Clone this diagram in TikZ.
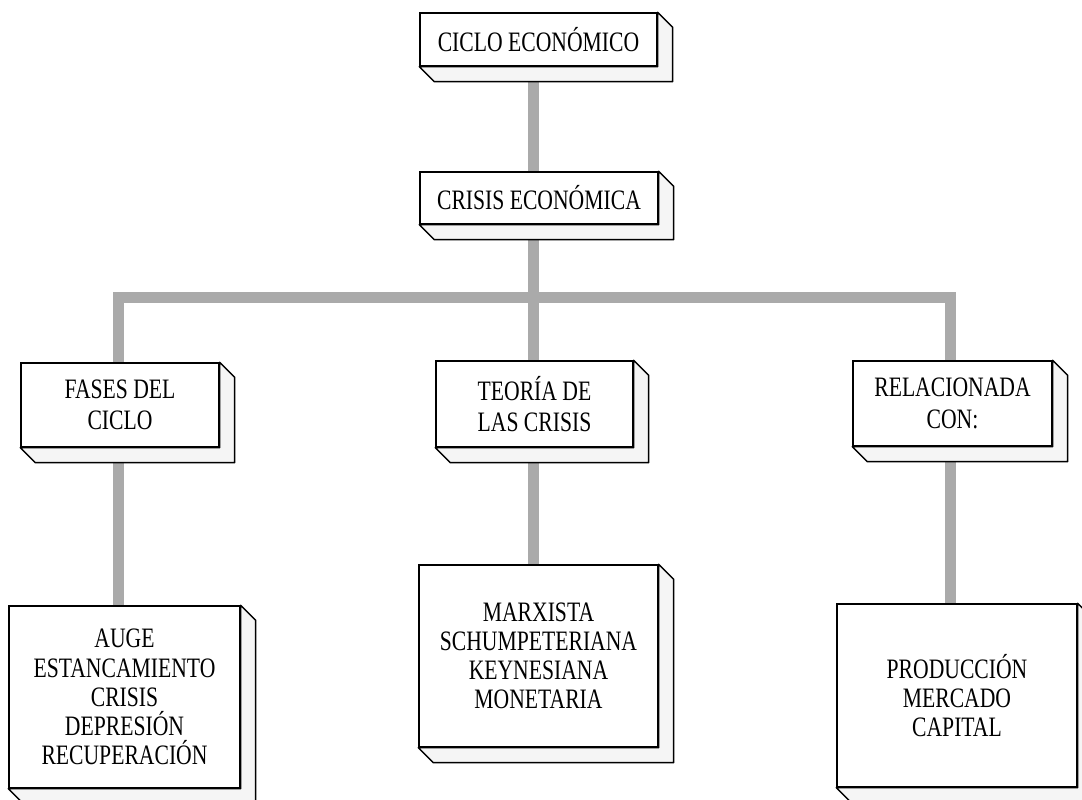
\documentclass[tikz,border=0pt]{standalone}
\usepackage{fontspec}
\setmainfont[FakeStretch=0.77]{Liberation Serif}
\usetikzlibrary{calc,backgrounds}
\definecolor{barragris}{RGB}{170,170,170}
% cara lateral e inferior de una caja
\newcommand{\relieve}[1]{%
  \filldraw[lado] (#1.north east) -- ++(15,15) -- ($(#1.south east)+(15,15)$)
    -- ($(#1.south west)+(15,15)$) -- (#1.south west) -- (#1.south east) -- cycle;}
\begin{document}
\begin{tikzpicture}[x=0.02cm, y=-0.02cm,
    caja/.style={draw, line width=0.8pt, fill=white, align=center, inner sep=0pt,
      font=\fontsize{16}{16.6}\selectfont},
    lado/.style={draw, line width=0.8pt, fill=gray!8, line join=round},
    barra/.style={draw=barragris, line width=0.22cm, line join=miter}]
    \clip (0,0) rectangle (1082,800);
    % nivel superior
    \node[caja, minimum width=4.74cm, minimum height=1.06cm] (ciclo) at (538.5,39.5) {CICLO ECONÓMICO};
    \node[caja, minimum width=4.76cm, minimum height=1.04cm] (crisis) at (539,198) {CRISIS ECONÓMICA};
    % segundo nivel
    \node[caja, minimum width=3.96cm, minimum height=1.68cm, font=\fontsize{16}{18}\selectfont] (fases) at (120,405) {FASES DEL\\CICLO};
    \node[caja, minimum width=3.94cm, minimum height=1.72cm, font=\fontsize{16}{18}\selectfont] (teoria) at (534.5,404) {TEORÍA DE\\LAS CRISIS};
    \node[caja, minimum width=3.98cm, minimum height=1.70cm, font=\fontsize{16}{18}\selectfont] (relac) at (952.5,403.5) {RELACIONADA\\CON:};
    % tercer nivel
    \node[caja, minimum width=4.62cm, minimum height=3.64cm] (auge) at (124.5,697) {AUGE\\ESTANCAMIENTO\\CRISIS\\DEPRESIÓN\\RECUPERACIÓN};
    \node[caja, minimum width=4.78cm, minimum height=3.64cm] (marx) at (538.5,656) {MARXISTA\\SCHUMPETERIANA\\KEYNESIANA\\MONETARIA};
    \node[caja, minimum width=4.80cm, minimum height=3.66cm] (prod) at (957,695.5) {PRODUCCIÓN\\MERCADO\\CAPITAL};
    % relieve
    \foreach \c in {ciclo,crisis,fases,teoria,relac,auge,marx,prod} {\relieve{\c}}
    % barras grises
    \coordinate (junta) at (533,298);
    \begin{scope}[on background layer]
    \draw[barra] (junta |- ciclo.south) -- (junta |- crisis.north);
    \draw[barra] (junta |- crisis.south) -- (junta) -- (junta |- teoria.north);
    \draw[barra] (fases.north -| 118,0) |- (junta) -| (relac.north -| 950,0);
    \draw[barra] (fases.south -| 118,0) -- (auge.north -| 118,0);
    \draw[barra] (junta |- teoria.south) -- (junta |- marx.north);
    \draw[barra] (relac.south -| 950,0) -- (prod.north -| 950,0);
    \end{scope}
\end{tikzpicture}
\end{document}
